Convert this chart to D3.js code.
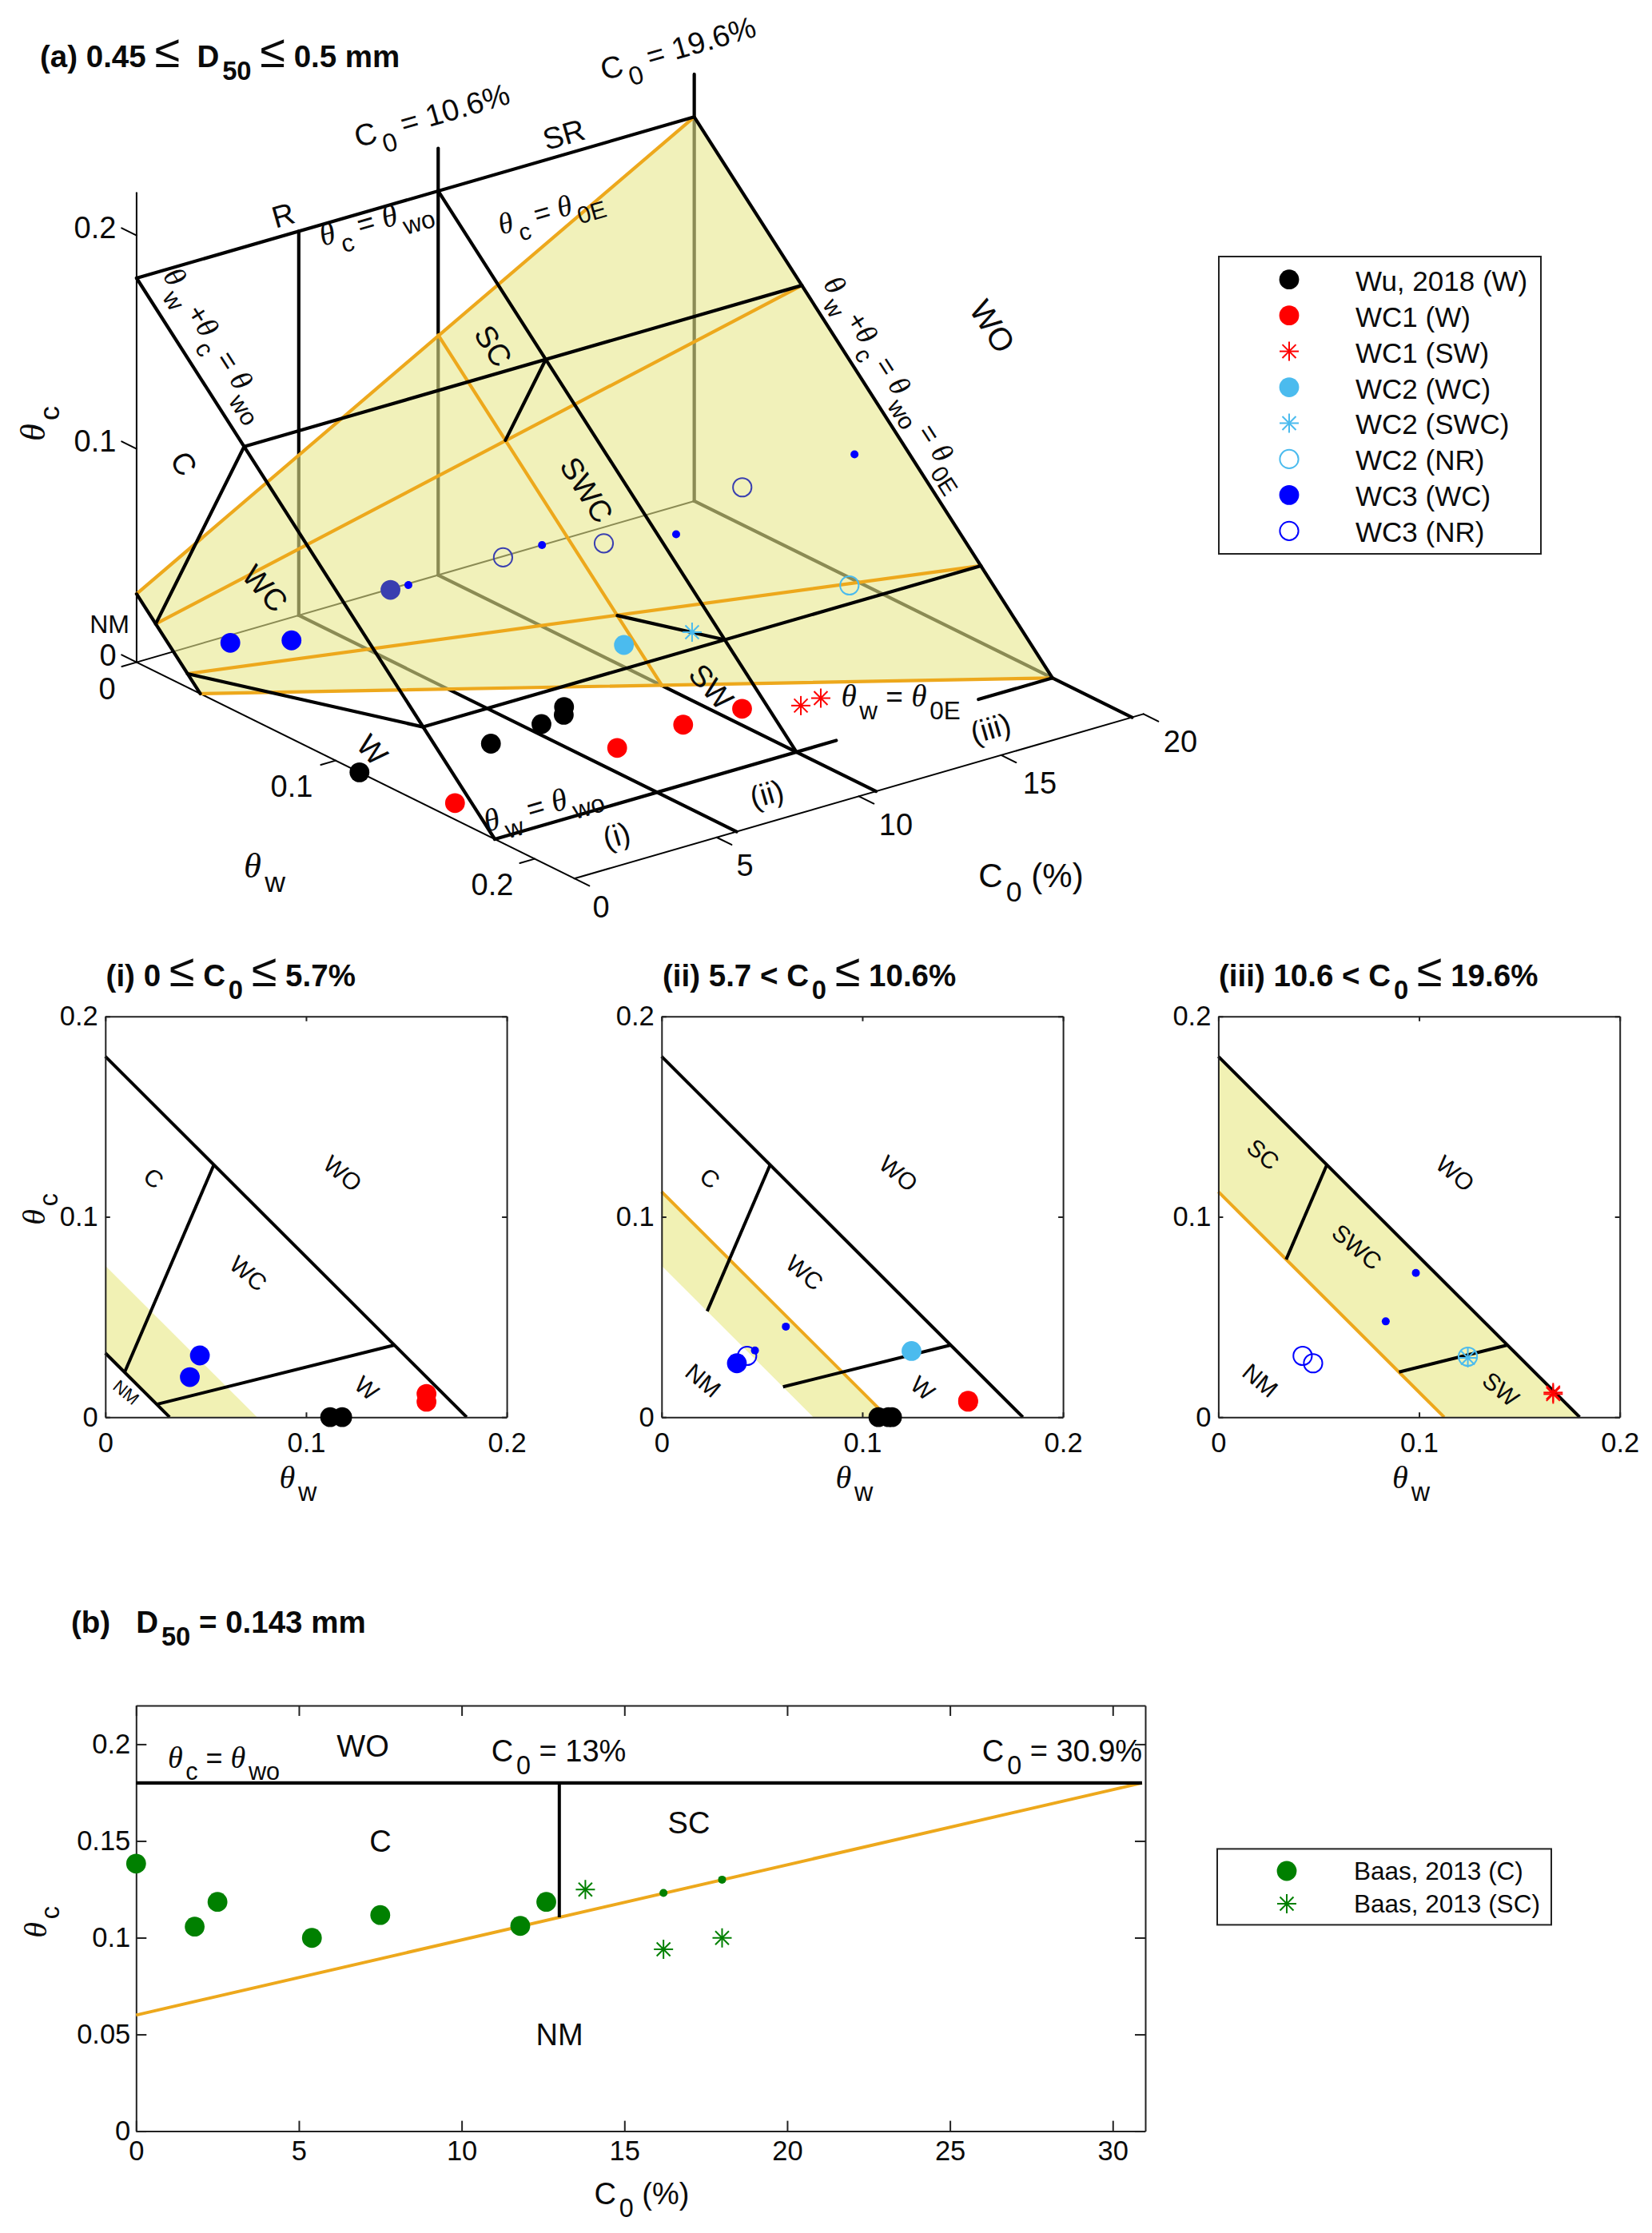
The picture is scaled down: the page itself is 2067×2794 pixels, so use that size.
<!DOCTYPE html>
<html><head><meta charset="utf-8">
<script src="https://cdn.jsdelivr.net/npm/d3@7/dist/d3.min.js"></script>
<style>html,body{margin:0;padding:0;background:#fff}svg{display:block}text{font-family:"Liberation Sans",Arial,sans-serif;fill:#0a0a0a}</style>
</head><body><div id="c"></div>
<script>
// ---------- data: [C0 %, theta_w, theta_c] ----------
const wuC=[0,4.2,6.2,7.11,7.47], wuW=[.112,.118,.1148,.113,.108], wuT=[0,0,0,0,0];
const wc1wC=[0,5.7,8.53,10.6], wc1wW=[.16,.16,.1527,.1527], wc1wT=[.0077,.0116,.0082,.0077];
const wc1swC=[11.68,12.38], wc1swW=[.1668,.1668], wc1swT=[.0115,.0123];
const wc2wcC=[8.42], wc2wcW=[.1245], wc2wcT=[.033];
const wc2swcC=[10.83], wc2swcW=[.1243], wc2swcT=[.0296];
const wc2nrC=[16.36], wc2nrW=[.1243], wc2nrT=[.0302];
const wc3wcC=[0,2.5,6.3], wc3wcW=[.0471,.0421,.0375], wc3wcT=[.0308,.02,.0269];
const wc3smC=[6.3,9.92,13.13,18.35], wc3smW=[.0465,.0619,.0834,.0984], wc3smT=[.0333,.0452,.0478,.072];
const wc3nrC=[9.9,13.12,18.35], wc3nrW=[.0426,.0472,.042], wc3nrT=[.0306,.0269,.0306];
const baasC_C=[0,1.8,2.5,5.4,7.5,11.8,12.6], baasC_T=[.1383,.1057,.1185,.0999,.1117,.1061,.1185];
const baasSm_C=[16.2,18], baasSm_T=[.1231,.13];
const baasSC_C=[13.8,16.2,18], baasSC_T=[.1249,.094,.0999];
// regime boundaries
const regimeC=[0,5.7,10.6,19.6], regimeE=[.032,.0756,.1125,.18];
const thetaWO=.18, ratioCWC=2.33, ratioWWC=.25;
const bLineC=[0,30.9], bLineT=[.06,.18], bSplitC=13, bSplitT=.1105;
const legendA=["Wu, 2018 (W)","WC1 (W)","WC1 (SW)","WC2 (WC)","WC2 (SWC)","WC2 (NR)","WC3 (WC)","WC3 (NR)"];
const legendB=["Baas, 2013 (C)","Baas, 2013 (SC)"];
const panelTicks=[0,.1,.2], cTicks3=[0,5,10,15,20], bxTicks=[0,5,10,15,20,25,30], byTicks=[0,.05,.1,.15,.2];

const K='#000',ORANGE='#eda81c',YEL='rgb(241,241,180)',RED='#ff0000',BLK='#000',SKY='#4bbbee',BLU='#0000ff',GRN='#008000';
const svg=d3.select('#c').append('svg').attr('width',2067).attr('height',2794);
const FS=38,TF=34.5;

function ray(sum,r){const w=sum/(1+r);return [w,sum-w];}
const [wCW,tCW]=ray(thetaWO,ratioCWC), [wWW,tWW]=ray(thetaWO,ratioWWC);

// rich text: θ is serif italic, _x or _{xy} is subscript
function rich(g,x,y,s,o={}){
  const size=o.size||FS,t=g.append('text').attr('transform',`translate(${x},${y}) rotate(${o.rot||0})`)
    .attr('text-anchor',o.anchor||'middle').attr('font-size',size).attr('font-weight',o.bold?'bold':'normal').style('white-space','pre').attr('xml:space','preserve');
  let i=0,drop=0;const sub=.42*size;
  const add=(txt,st={})=>{const ts=t.append('tspan').text(txt);
    const want=st.sub?sub:0; if(want!==drop){ts.attr('dy',want-drop);drop=want;}
    if(st.sub){ts.attr('font-size',size*.85);ts.attr('dx',size*.1);}
    if(st.theta){ts.attr('font-family','"Liberation Serif",serif').attr('font-style','italic').attr('font-size',size*1.06);}
    if(st.plain){ts.attr('font-weight','normal').attr('font-size',size*1.5);}
    return ts;};
  let buf='';const flush=()=>{if(buf){add(buf);buf='';}};
  while(i<s.length){const c=s[i];
    if(c==='θ'){flush();add('θ',{theta:1});i++;}
    else if(c==='≤'){flush();add('≤',{plain:1});i++;}
    else if(c==='_'){flush();i++;let r='';if(s[i]==='{'){i++;while(s[i]!=='}')r+=s[i++];i++;}else r=s[i++];add(r,{sub:1});}
    else{buf+=c;i++;}}
  flush();return t;
}
function marker(g,type,x,y,color){
  if(type==='dot')g.append('circle').attr('cx',x).attr('cy',y).attr('r',12.4).attr('fill',color);
  else if(type==='small')g.append('circle').attr('cx',x).attr('cy',y).attr('r',5).attr('fill',color);
  else if(type==='open')g.append('circle').attr('cx',x).attr('cy',y).attr('r',11.6).attr('fill','none').attr('stroke',color).attr('stroke-width',2);
  else if(type==='star'){const R=12;[0,45,90,135].forEach(a=>{const c=Math.cos(a*Math.PI/180)*R,s=Math.sin(a*Math.PI/180)*R;
    g.append('line').attr('x1',x-c).attr('y1',y-s).attr('x2',x+c).attr('y2',y+s).attr('stroke',color).attr('stroke-width',2);});}
}
const seriesAll=[
 {type:'open',color:SKY,C:wc2nrC,W:wc2nrW,T:wc2nrT},
 {type:'open',color:BLU,C:wc3nrC,W:wc3nrW,T:wc3nrT},
 {type:'dot',color:BLK,C:wuC,W:wuW,T:wuT},
 {type:'dot',color:RED,C:wc1wC,W:wc1wW,T:wc1wT},
 {type:'star',color:RED,C:wc1swC,W:wc1swW,T:wc1swT},
 {type:'dot',color:SKY,C:wc2wcC,W:wc2wcW,T:wc2wcT},
 {type:'star',color:SKY,C:wc2swcC,W:wc2swcW,T:wc2swcT},
 {type:'dot',color:BLU,C:wc3wcC,W:wc3wcW,T:wc3wcT},
 {type:'small',color:BLU,C:wc3smC,W:wc3smW,T:wc3smT}];

// ================= (a) 3-D view =================
const px=d3.scaleLinear([0,20],[0,712]), pyC=d3.scaleLinear([0,20],[0,-205.8]);
const wx=d3.scaleLinear([0,.22],[0,547.8]), wy=d3.scaleLinear([0,.22],[0,270.6]);
const ty=d3.scaleLinear([0,.22],[0,-587.4]);
const P=(C,w,t)=>[170.9+px(C)+wx(w),828.6+pyC(C)+wy(w)+ty(t)];
const g3=svg.append('g');
const path=d3.line();
function seg(a,b,color,wd,g=g3){g.append('path').attr('d',path([P(...a),P(...b)])).attr('stroke',color).attr('stroke-width',wd).attr('fill','none').attr('stroke-linecap','round');}
const TH=2,TK=4.2;
const Cm=regimeC[3],Cs=regimeC[2],Cr=regimeC[1];
// thin axes and ticks
seg([0,0,0],[Cm,0,0],K,TH);seg([0,0,0],[0,0,.22],K,TH);seg([0,0,0],[0,.22,0],K,TH);seg([0,.22,0],[20,.22,0],K,TH);
[0,.1,.2].forEach(v=>{seg([0,v,0],[-.52,v,0],K,TH);seg([0,0,v],[0,-.0075,v],K,TH);});
cTicks3.forEach(v=>seg([v,.22,0],[v,.2275,0],K,TH));
// planes behind the yellow surface
[[Cr,.18],[Cs,.2],[Cm,.2]].forEach(([c,top])=>{seg([c,0,0],[c,0,top],K,TK);seg([c,0,0],[c,.22,0],K,TK);});
// yellow surface
const rim=[[0,0,regimeE[0]],[Cm,0,regimeE[3]],[Cm,regimeE[3],0],[0,regimeE[0],0]];
g3.append('path').attr('d',path(rim.map(d=>P(...d)))+'Z').attr('fill','rgb(232,232,140)').attr('fill-opacity',.6);
// orange lines
const [w0a,t0a]=ray(regimeE[0],ratioCWC),[w0b,t0b]=ray(regimeE[0],ratioWWC);
const [w2a,t2a]=ray(regimeE[2],ratioCWC),[w2b,t2b]=ray(regimeE[2],ratioWWC);
seg(rim[0],rim[1],ORANGE,TK);seg(rim[3],rim[2],ORANGE,TK);
seg([0,w0a,t0a],[Cm,wCW,tCW],ORANGE,TK);seg([0,w0b,t0b],[Cm,wWW,tWW],ORANGE,TK);
seg([Cs,0,regimeE[2]],[Cs,regimeE[2],0],ORANGE,TK);
// black boundaries
seg([0,0,thetaWO],[Cm,0,thetaWO],K,TK);
[0,Cs,Cm].forEach(c=>seg([c,0,thetaWO],[c,thetaWO,0],K,TK));
seg(rim[0],rim[3],K,TK);
seg([0,wCW,tCW],[Cm,wCW,tCW],K,TK);seg([0,wWW,tWW],[Cm,wWW,tWW],K,TK);
seg([0,wCW,tCW],[0,w0a,t0a],K,TK);seg([0,wWW,tWW],[0,w0b,t0b],K,TK);
seg([Cs,wCW,tCW],[Cs,w2a,t2a],K,TK);seg([Cs,wWW,tWW],[Cs,w2b,t2b],K,TK);
seg([0,thetaWO,0],[12,thetaWO,0],K,TK);seg([17,thetaWO,0],[Cm,thetaWO,0],K,TK);
// markers
seriesAll.forEach(s=>s.C.forEach((c,i)=>{
  const below=(s.W[i]+s.T[i])<(d3.scaleLinear(regimeC,regimeE)(c)-.002)&&s.color===BLU;
  const [x,y]=P(c,s.W[i],s.T[i]);
  marker(g3,s.type,x,y,below?'#3a3fb0':s.color);}));
// labels of 3-D view
const rC=-16.1,rD=57.4,rL=48;
rich(g3,50,84,'(a) 0.45 ≤  D_{50} ≤ 0.5 mm',{anchor:'start',bold:1,size:38.5});
rich(g3,852,73,'C_0 = 19.6%',{rot:rC});rich(g3,544,157,'C_0 = 10.6%',{rot:rC});
rich(g3,358,282,'R',{rot:rC});rich(g3,709,181,'SR',{rot:rC});
rich(g3,473,288,'θ_c = θ_{wo}',{rot:rC,size:37});rich(g3,692,275,'θ_c = θ_{0E}',{rot:rC,size:35});
rich(g3,261,436,'θ_w +θ_c = θ_{wo}',{rot:rD,size:36});
rich(g3,1112,485,'θ_w +θ_c = θ_{wo} = θ_{0E}',{rot:rD,size:35});
rich(g3,1230,416,'WO',{rot:rD,size:40});rich(g3,606,440,'SC',{rot:rD});rich(g3,219,587,'C',{rot:rD});
rich(g3,723,620,'SWC',{rot:rD});rich(g3,322,745,'WC',{rot:rL});rich(g3,880,868,'SW',{rot:rL});rich(g3,456,947,'W',{rot:rL});
rich(g3,137,792,'NM',{size:32});
rich(g3,682,1020,'θ_w = θ_{wo}',{rot:rC,size:37});rich(g3,1127,884,'θ_w = θ_{0E}',{size:37});
rich(g3,775,1058,'(i)',{rot:rC});rich(g3,963,1006,'(ii)',{rot:rC});rich(g3,1243,924,'(iii)',{rot:rC});
[[119,298,'0.2'],[119,565,'0.1'],[135,833,'0'],[134,875,'0'],[365,997,'0.1'],[616,1120,'0.2'],[752,1148,'0'],[932,1096,'5'],[1121,1045,'10'],[1301,993,'15'],[1477,941,'20']]
 .forEach(d=>rich(g3,d[0],d[1],d[2]));
rich(g3,56,530,'θ_c',{rot:-90,size:42});
rich(g3,331,1098,'θ_w',{size:42});
rich(g3,1290,1110,'C_0 (%)',{size:42});

// legend a
const la=svg.append('g');
la.append('rect').attr('x',1525).attr('y',321).attr('width',403).attr('height',372).attr('fill','#fff').attr('stroke','#222').attr('stroke-width',2);
const legendAStyle=[['dot',BLK],['dot',RED],['star',RED],['dot',SKY],['star',SKY],['open',SKY],['dot',BLU],['open',BLU]];
const lay=d3.scalePoint(legendA,[349.7,664.3]);
legendA.forEach((t,i)=>{marker(la,legendAStyle[i][0],1613,lay(t),legendAStyle[i][1]);
  la.append('text').attr('x',1696).attr('y',lay(t)+14).attr('font-size',35).text(t);});

// ================= panels =================
function boxAxes(g,x,y,o){
  const [x0,x1]=x.range(),[y0,y1]=y.range();
  const L=o.tick,fmt=d3.format(o.fmt||'.1~f');
  const f=v=>v===0?'0':fmt(v);
  const mk=(ax,tr,lab)=>{const a=g.append('g').attr('transform',tr).call(ax);a.select('.domain').attr('stroke','#222').attr('stroke-width',2);
    a.selectAll('.tick line').attr('stroke','#222').attr('stroke-width',2);
    a.selectAll('text').attr('font-size',TF).attr('font-family','"Liberation Sans",sans-serif').attr('fill','#111');
    if(!lab)a.selectAll('text').remove();return a;};
  mk(d3.axisBottom(x).tickValues(o.xt).tickSizeInner(-L).tickSizeOuter(0).tickPadding(o.xpad).tickFormat(f),`translate(0,${y0})`,1);
  mk(d3.axisTop(x).tickValues(o.xt).tickSizeInner(-L).tickSizeOuter(0),`translate(0,${y1})`,0);
  mk(d3.axisLeft(y).tickValues(o.yt).tickSizeInner(-L).tickSizeOuter(0).tickPadding(o.ypad).tickFormat(f),`translate(${x0},0)`,1);
  mk(d3.axisRight(y).tickValues(o.yt).tickSizeInner(-L).tickSizeOuter(0),`translate(${x1},0)`,0);
}
function panel(cfg){
  const g=svg.append('g');
  const x=d3.scaleLinear([0,.2],[cfg.x0,cfg.x0+502.3]), y=d3.scaleLinear([0,.2],[1773.2,1271.8]);
  const xy=(w,t)=>[x(w),y(t)];
  const lo=regimeE[cfg.i],hi=regimeE[cfg.i+1];
  g.append('path').attr('d',path([xy(0,lo),xy(0,hi),xy(hi,0),xy(lo,0)])+'Z').attr('fill',YEL);
  const ln=(a,b,col,wd=4)=>g.append('path').attr('d',path([xy(...a),xy(...b)])).attr('stroke',col).attr('stroke-width',wd).attr('fill','none');
  if(cfg.i===2)ln([0,lo],[lo,0],ORANGE);
  if(cfg.i===1)ln([0,hi],[hi,0],ORANGE);
  if(cfg.i===0)ln([0,lo],[lo,0],K);
  ln([0,thetaWO],[thetaWO,0],K);
  ln(ray(lo,ratioCWC),[wCW,tCW],K);ln(ray(lo,ratioWWC),[wWW,tWW],K);
  boxAxes(g,x,y,{xt:panelTicks,yt:panelTicks,tick:6,xpad:19,ypad:9});
  seriesAll.forEach(s=>s.C.forEach((c,k)=>{if(c<=regimeC[cfg.i+1]&&(cfg.i===0||c>regimeC[cfg.i])){
     marker(g,s.type,x(s.W[k]),y(s.T[k]),s.color);}}));
  rich(g,cfg.tx,1234,cfg.title,{anchor:'start',bold:1,size:38.5});
  rich(g,x(.1)-10,1862,'θ_w',{size:38});
  cfg.labels.forEach(l=>{const sz=l[3]||30,rot=40,off=.36*sz;
    rich(g,l[0]-Math.sin(rot*Math.PI/180)*off,l[1]+Math.cos(rot*Math.PI/180)*off,l[2],{rot,size:sz});});
}
panel({i:0,x0:131.8,tx:132.6,title:'(i) 0 ≤ C_0 ≤ 5.7%',labels:[[192.6,1474,'C'],[429,1468,'WO'],[311,1593,'WC'],[459,1736.5,'W'],[158,1742,'NM',22]]});
panel({i:1,x0:827.8,tx:829,title:'(ii) 5.7 < C_0 ≤ 10.6%',labels:[[888.6,1474,'C'],[1124.5,1468,'WO'],[1007,1592,'WC'],[1154.7,1736.5,'W'],[880,1727,'NM']]});
panel({i:2,x0:1524.4,tx:1525,title:'(iii) 10.6 < C_0 ≤ 19.6%',labels:[[1580.7,1444,'SC'],[1821,1468,'WO'],[1698,1560,'SWC'],[1878,1738,'SW'],[1577,1727,'NM']]});
rich(svg,56,1513,'θ_c',{rot:-90,size:38});

// ================= (b) =================
const gb=svg.append('g');
const bx=d3.scaleLinear([0,31],[170.3,1433]), by=d3.scaleLinear([0,.22],[2666.6,2134]);
const bl=d3.line().x(d=>bx(d[0])).y(d=>by(d[1]));
boxAxes(gb,bx,by,{xt:bxTicks,yt:byTicks,tick:13,fmt:'.2~f',xpad:12,ypad:7});
gb.append('path').attr('d',bl(d3.zip(bLineC,bLineT))).attr('stroke',ORANGE).attr('stroke-width',4).attr('fill','none');
gb.append('path').attr('d',bl([[0,thetaWO],[bLineC[1],thetaWO]])).attr('stroke',K).attr('stroke-width',4.4).attr('fill','none');
gb.append('path').attr('d',bl([[bSplitC,thetaWO],[bSplitC,bSplitT]])).attr('stroke',K).attr('stroke-width',4).attr('fill','none');
baasC_C.forEach((c,i)=>marker(gb,'dot',bx(c),by(baasC_T[i]),GRN));
baasSm_C.forEach((c,i)=>marker(gb,'small',bx(c),by(baasSm_T[i]),GRN));
baasSC_C.forEach((c,i)=>marker(gb,'star',bx(c),by(baasSC_T[i]),GRN));
rich(gb,89,2043,'(b)   D_{50} = 0.143 mm',{anchor:'start',bold:1,size:38.5});
rich(gb,280,2212,'θ_c = θ_{wo}',{size:36});rich(gb,454,2198,'WO');rich(gb,699,2204,'C_0 = 13%');rich(gb,1329,2204,'C_0 = 30.9%');
rich(gb,476,2317,'C');rich(gb,862,2294,'SC');rich(gb,700,2559,'NM');
rich(gb,58,2405,'θ_c',{rot:-90,size:38});
rich(gb,803,2758,'C_0 (%)');
const lb=svg.append('g');
lb.append('rect').attr('x',1523).attr('y',2313.4).attr('width',418).attr('height',95).attr('fill','#fff').attr('stroke','#222').attr('stroke-width',2);
const lby=d3.scalePoint(legendB,[2341,2382]);
legendB.forEach((t,i)=>{marker(lb,i?'star':'dot',1610,lby(t),GRN);
  lb.append('text').attr('x',1694).attr('y',lby(t)+11).attr('font-size',31.5).text(t);});
</script></body></html>
